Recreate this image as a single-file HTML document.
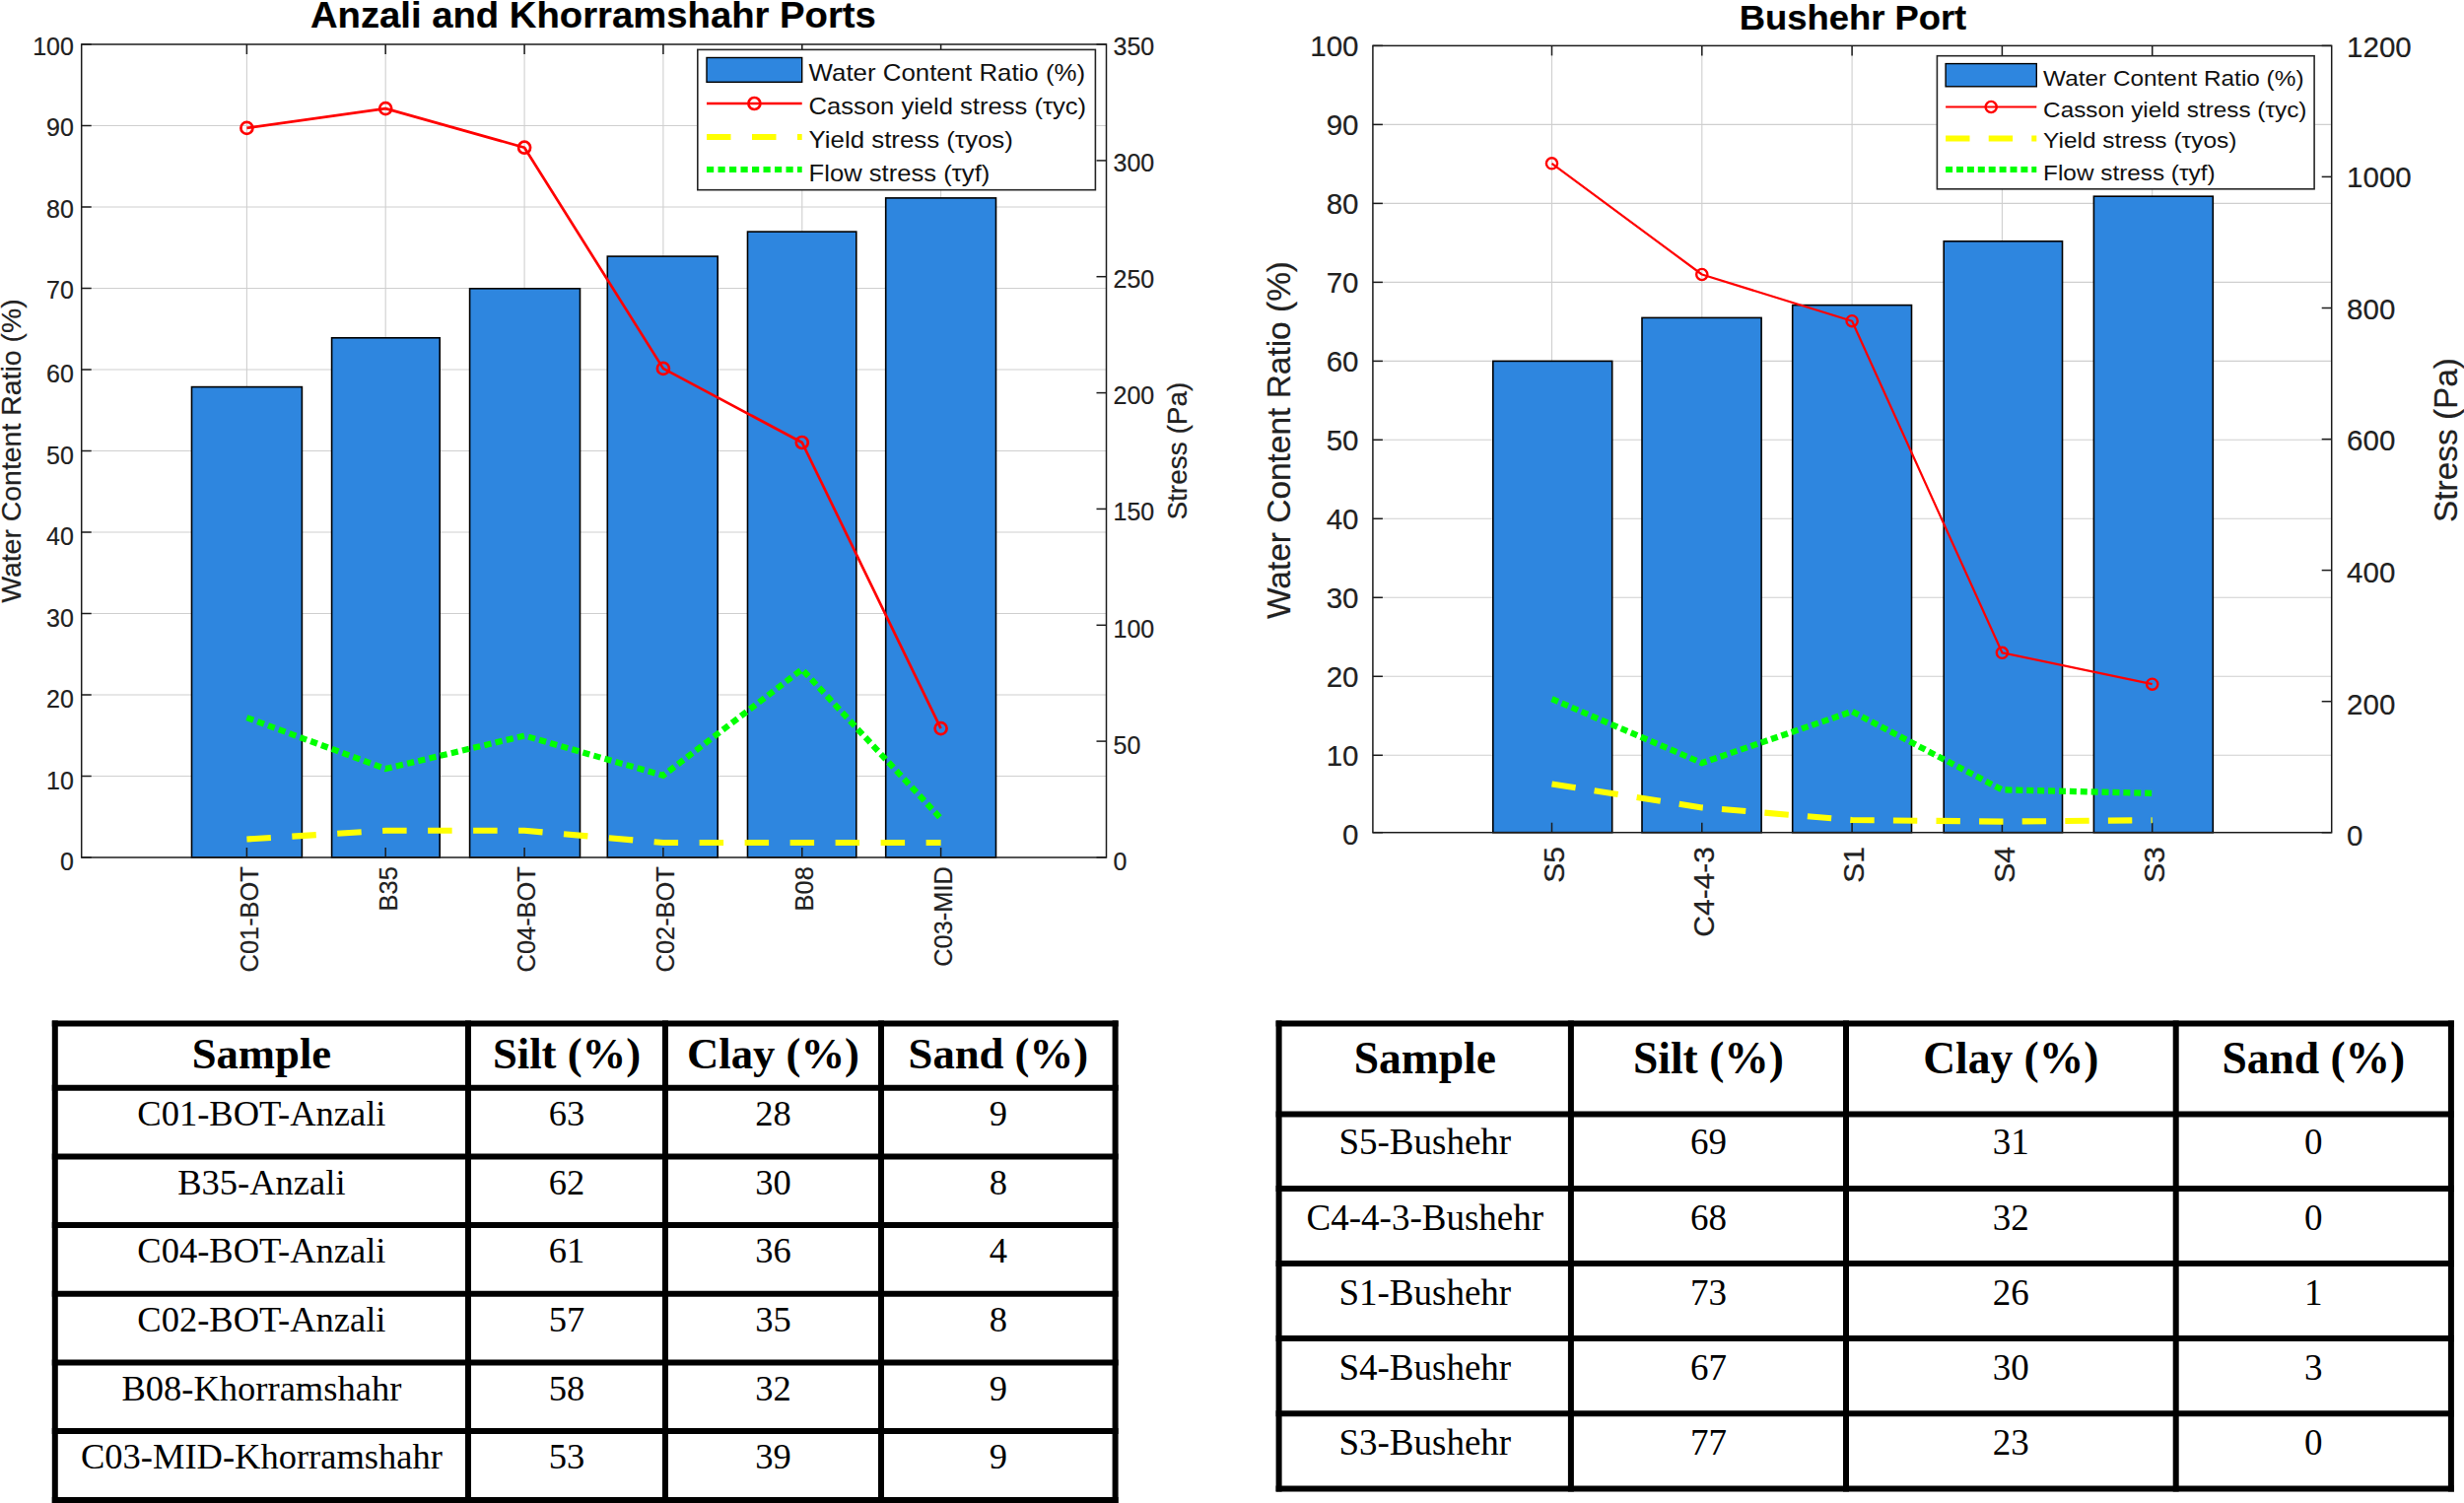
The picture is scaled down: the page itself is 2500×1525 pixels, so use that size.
<!DOCTYPE html>
<html lang="en"><head><meta charset="utf-8"><title>Port sediment charts</title>
<style>html,body{margin:0;padding:0;background:#fff;}body{width:2500px;height:1525px;overflow:hidden;}svg{display:block;}</style>
</head><body>
<svg width="2500" height="1525" viewBox="0 0 2500 1525">
<rect x="0" y="0" width="2500" height="1525" fill="#fff"/>
<g font-family="'Liberation Sans', Arial, Helvetica, sans-serif" fill="#212121" stroke="#212121" stroke-width="0.2">
<g stroke="#cfcfcf" stroke-width="1.1" fill="none">
<line x1="250.4" y1="45.0" x2="250.4" y2="870.0"/>
<line x1="391.2" y1="45.0" x2="391.2" y2="870.0"/>
<line x1="532.1" y1="45.0" x2="532.1" y2="870.0"/>
<line x1="672.9" y1="45.0" x2="672.9" y2="870.0"/>
<line x1="813.8" y1="45.0" x2="813.8" y2="870.0"/>
<line x1="954.6" y1="45.0" x2="954.6" y2="870.0"/>
<line x1="82.7" y1="787.5" x2="1122.5" y2="787.5"/>
<line x1="82.7" y1="705.0" x2="1122.5" y2="705.0"/>
<line x1="82.7" y1="622.5" x2="1122.5" y2="622.5"/>
<line x1="82.7" y1="540.0" x2="1122.5" y2="540.0"/>
<line x1="82.7" y1="457.5" x2="1122.5" y2="457.5"/>
<line x1="82.7" y1="375.0" x2="1122.5" y2="375.0"/>
<line x1="82.7" y1="292.5" x2="1122.5" y2="292.5"/>
<line x1="82.7" y1="210.0" x2="1122.5" y2="210.0"/>
<line x1="82.7" y1="127.5" x2="1122.5" y2="127.5"/>
</g>
<g fill="#2E86DF" stroke="#000" stroke-width="1.6">
<rect x="194.5" y="392.6" width="111.9" height="477.4"/>
<rect x="336.6" y="342.8" width="109.6" height="527.2"/>
<rect x="476.6" y="292.8" width="111.9" height="577.2"/>
<rect x="616.3" y="260.1" width="111.9" height="609.9"/>
<rect x="758.5" y="235.1" width="110.3" height="634.9"/>
<rect x="898.7" y="200.9" width="111.8" height="669.1"/>
</g>
<g stroke="#1c1c1c" stroke-width="1.5" fill="none">
<rect x="82.7" y="45.0" width="1039.8" height="825.0"/>
<line x1="250.4" y1="870.0" x2="250.4" y2="860.0"/>
<line x1="250.4" y1="45.0" x2="250.4" y2="55.0"/>
<line x1="391.2" y1="870.0" x2="391.2" y2="860.0"/>
<line x1="391.2" y1="45.0" x2="391.2" y2="55.0"/>
<line x1="532.1" y1="870.0" x2="532.1" y2="860.0"/>
<line x1="532.1" y1="45.0" x2="532.1" y2="55.0"/>
<line x1="672.9" y1="870.0" x2="672.9" y2="860.0"/>
<line x1="672.9" y1="45.0" x2="672.9" y2="55.0"/>
<line x1="813.8" y1="870.0" x2="813.8" y2="860.0"/>
<line x1="813.8" y1="45.0" x2="813.8" y2="55.0"/>
<line x1="954.6" y1="870.0" x2="954.6" y2="860.0"/>
<line x1="954.6" y1="45.0" x2="954.6" y2="55.0"/>
<line x1="82.7" y1="870.0" x2="92.7" y2="870.0"/>
<line x1="82.7" y1="787.5" x2="92.7" y2="787.5"/>
<line x1="82.7" y1="705.0" x2="92.7" y2="705.0"/>
<line x1="82.7" y1="622.5" x2="92.7" y2="622.5"/>
<line x1="82.7" y1="540.0" x2="92.7" y2="540.0"/>
<line x1="82.7" y1="457.5" x2="92.7" y2="457.5"/>
<line x1="82.7" y1="375.0" x2="92.7" y2="375.0"/>
<line x1="82.7" y1="292.5" x2="92.7" y2="292.5"/>
<line x1="82.7" y1="210.0" x2="92.7" y2="210.0"/>
<line x1="82.7" y1="127.5" x2="92.7" y2="127.5"/>
<line x1="82.7" y1="45.0" x2="92.7" y2="45.0"/>
<line x1="1122.5" y1="870.0" x2="1112.5" y2="870.0"/>
<line x1="1122.5" y1="752.1" x2="1112.5" y2="752.1"/>
<line x1="1122.5" y1="634.3" x2="1112.5" y2="634.3"/>
<line x1="1122.5" y1="516.4" x2="1112.5" y2="516.4"/>
<line x1="1122.5" y1="398.6" x2="1112.5" y2="398.6"/>
<line x1="1122.5" y1="280.7" x2="1112.5" y2="280.7"/>
<line x1="1122.5" y1="162.9" x2="1112.5" y2="162.9"/>
<line x1="1122.5" y1="45.0" x2="1112.5" y2="45.0"/>
</g>
<polyline points="250.4,129.9 391.2,110.1 532.1,149.7 672.9,373.9 813.8,449.0 954.6,739.1" fill="none" stroke="#ff0000" stroke-width="2.7" stroke-linejoin="round"/>
<circle cx="250.4" cy="129.9" r="6.0" fill="none" stroke="#ff0000" stroke-width="2.7"/>
<circle cx="391.2" cy="110.1" r="6.0" fill="none" stroke="#ff0000" stroke-width="2.7"/>
<circle cx="532.1" cy="149.7" r="6.0" fill="none" stroke="#ff0000" stroke-width="2.7"/>
<circle cx="672.9" cy="373.9" r="6.0" fill="none" stroke="#ff0000" stroke-width="2.7"/>
<circle cx="813.8" cy="449.0" r="6.0" fill="none" stroke="#ff0000" stroke-width="2.7"/>
<circle cx="954.6" cy="739.1" r="6.0" fill="none" stroke="#ff0000" stroke-width="2.7"/>
<polyline points="250.4,851.5 391.2,842.8 532.1,842.8 672.9,855.0 813.8,855.0 954.6,855.0" fill="none" stroke="#ffff00" stroke-width="6.1" stroke-dasharray="24.5 21.5"/>
<polyline points="250.4,728.2 391.2,780.0 532.1,746.5 672.9,786.8 813.8,679.1 954.6,830.5" fill="none" stroke="#00ff00" stroke-width="6.2" stroke-dasharray="7.2 4.3"/>
<g font-size="25" text-anchor="end">
<text x="74.9" y="883.2">0</text>
<text x="74.9" y="800.7">10</text>
<text x="74.9" y="718.2">20</text>
<text x="74.9" y="635.7">30</text>
<text x="74.9" y="553.2">40</text>
<text x="74.9" y="470.7">50</text>
<text x="74.9" y="388.2">60</text>
<text x="74.9" y="303.4">70</text>
<text x="74.9" y="220.9">80</text>
<text x="74.9" y="138.4">90</text>
<text x="74.9" y="55.9">100</text>
</g>
<g font-size="25" text-anchor="start">
<text x="1129.5" y="882.5">0</text>
<text x="1129.5" y="764.6">50</text>
<text x="1129.5" y="646.8">100</text>
<text x="1129.5" y="527.7">150</text>
<text x="1129.5" y="409.9">200</text>
<text x="1129.5" y="292.0">250</text>
<text x="1129.5" y="174.2">300</text>
<text x="1129.5" y="55.6">350</text>
</g>
<g font-size="25.4" text-anchor="end">
<text transform="translate(261.7,879.2) rotate(-90)">C01-BOT</text>
<text transform="translate(402.5,879.2) rotate(-90)">B35</text>
<text transform="translate(543.4,879.2) rotate(-90)">C04-BOT</text>
<text transform="translate(684.2,879.2) rotate(-90)">C02-BOT</text>
<text transform="translate(825.1,879.2) rotate(-90)">B08</text>
<text transform="translate(965.9,879.2) rotate(-90)">C03-MID</text>
</g>
<text font-size="27.8" text-anchor="middle" transform="translate(21.3,457.6) rotate(-90)" textLength="308.5" lengthAdjust="spacingAndGlyphs">Water Content Ratio (%)</text>
<text font-size="27.8" text-anchor="middle" transform="translate(1204,457.6) rotate(-90)" textLength="140" lengthAdjust="spacingAndGlyphs">Stress (Pa)</text>
<text font-size="36.6" font-weight="bold" fill="#000" text-anchor="middle" x="601.9" y="28.2" textLength="574" lengthAdjust="spacingAndGlyphs">Anzali and Khorramshahr Ports</text>
<rect x="707.8" y="50.4" width="403.60000000000014" height="142.29999999999998" fill="#fff" stroke="#262626" stroke-width="1.6"/>
<rect x="717" y="58.5" width="96.70000000000005" height="24.799999999999997" fill="#2E86DF" stroke="#000" stroke-width="1.4"/>
<line x1="717" y1="105" x2="813.7" y2="105" stroke="#ff0000" stroke-width="2.7"/>
<circle cx="765.4" cy="105" r="6.0" fill="none" stroke="#ff0000" stroke-width="2.7"/>
<line x1="717" y1="139" x2="813.7" y2="139" stroke="#ffff00" stroke-width="6.1" stroke-dasharray="24.5 21.5"/>
<line x1="717" y1="172" x2="813.7" y2="172" stroke="#00ff00" stroke-width="6.2" stroke-dasharray="7.2 4.3"/>
<g font-size="23.4" fill="#111" stroke="none">
<text x="820.6" y="81.6" textLength="280.5" lengthAdjust="spacingAndGlyphs">Water Content Ratio (%)</text>
<text x="820.6" y="115.9" textLength="281.5" lengthAdjust="spacingAndGlyphs">Casson yield stress (τyc)</text>
<text x="820.6" y="149.6" textLength="207.3" lengthAdjust="spacingAndGlyphs">Yield stress (τyos)</text>
<text x="820.6" y="184.0" textLength="183.7" lengthAdjust="spacingAndGlyphs">Flow stress (τyf)</text>
</g>
</g>
<g font-family="'Liberation Sans', Arial, Helvetica, sans-serif" fill="#212121" stroke="#212121" stroke-width="0.2">
<g stroke="#cfcfcf" stroke-width="1.1" fill="none">
<line x1="1574.5" y1="46.4" x2="1574.5" y2="844.7"/>
<line x1="1726.8" y1="46.4" x2="1726.8" y2="844.7"/>
<line x1="1879.1" y1="46.4" x2="1879.1" y2="844.7"/>
<line x1="2031.4" y1="46.4" x2="2031.4" y2="844.7"/>
<line x1="2183.7" y1="46.4" x2="2183.7" y2="844.7"/>
<line x1="1392.9" y1="766.3" x2="2365.7" y2="766.3"/>
<line x1="1392.9" y1="686.3" x2="2365.7" y2="686.3"/>
<line x1="1392.9" y1="606.3" x2="2365.7" y2="606.3"/>
<line x1="1392.9" y1="526.3" x2="2365.7" y2="526.3"/>
<line x1="1392.9" y1="446.3" x2="2365.7" y2="446.3"/>
<line x1="1392.9" y1="366.4" x2="2365.7" y2="366.4"/>
<line x1="1392.9" y1="286.4" x2="2365.7" y2="286.4"/>
<line x1="1392.9" y1="206.4" x2="2365.7" y2="206.4"/>
<line x1="1392.9" y1="126.4" x2="2365.7" y2="126.4"/>
</g>
<g fill="#2E86DF" stroke="#000" stroke-width="1.6">
<rect x="1514.8" y="366.4" width="120.9" height="478.3"/>
<rect x="1666.0" y="322.4" width="121.1" height="522.3"/>
<rect x="1818.7" y="309.6" width="120.8" height="535.1"/>
<rect x="1972.2" y="244.8" width="120.3" height="599.9"/>
<rect x="2124.4" y="199.2" width="120.9" height="645.5"/>
</g>
<g stroke="#1c1c1c" stroke-width="1.5" fill="none">
<rect x="1392.9" y="46.4" width="972.7999999999997" height="798.3000000000001"/>
<line x1="1574.5" y1="844.7" x2="1574.5" y2="834.7"/>
<line x1="1574.5" y1="46.4" x2="1574.5" y2="56.4"/>
<line x1="1726.8" y1="844.7" x2="1726.8" y2="834.7"/>
<line x1="1726.8" y1="46.4" x2="1726.8" y2="56.4"/>
<line x1="1879.1" y1="844.7" x2="1879.1" y2="834.7"/>
<line x1="1879.1" y1="46.4" x2="1879.1" y2="56.4"/>
<line x1="2031.4" y1="844.7" x2="2031.4" y2="834.7"/>
<line x1="2031.4" y1="46.4" x2="2031.4" y2="56.4"/>
<line x1="2183.7" y1="844.7" x2="2183.7" y2="834.7"/>
<line x1="2183.7" y1="46.4" x2="2183.7" y2="56.4"/>
<line x1="1392.9" y1="844.7" x2="1402.9" y2="844.7"/>
<line x1="1392.9" y1="766.3" x2="1402.9" y2="766.3"/>
<line x1="1392.9" y1="686.3" x2="1402.9" y2="686.3"/>
<line x1="1392.9" y1="606.3" x2="1402.9" y2="606.3"/>
<line x1="1392.9" y1="526.3" x2="1402.9" y2="526.3"/>
<line x1="1392.9" y1="446.3" x2="1402.9" y2="446.3"/>
<line x1="1392.9" y1="366.4" x2="1402.9" y2="366.4"/>
<line x1="1392.9" y1="286.4" x2="1402.9" y2="286.4"/>
<line x1="1392.9" y1="206.4" x2="1402.9" y2="206.4"/>
<line x1="1392.9" y1="126.4" x2="1402.9" y2="126.4"/>
<line x1="1392.9" y1="46.4" x2="1402.9" y2="46.4"/>
<line x1="2365.7" y1="844.7" x2="2355.7" y2="844.7"/>
<line x1="2365.7" y1="711.7" x2="2355.7" y2="711.7"/>
<line x1="2365.7" y1="578.6" x2="2355.7" y2="578.6"/>
<line x1="2365.7" y1="445.6" x2="2355.7" y2="445.6"/>
<line x1="2365.7" y1="312.5" x2="2355.7" y2="312.5"/>
<line x1="2365.7" y1="179.4" x2="2355.7" y2="179.4"/>
<line x1="2365.7" y1="46.4" x2="2355.7" y2="46.4"/>
</g>
<polyline points="1574.5,165.8 1726.8,278.5 1879.1,325.7 2031.4,662.3 2183.7,694.2" fill="none" stroke="#ff0000" stroke-width="2.2" stroke-linejoin="round"/>
<circle cx="1574.5" cy="165.8" r="5.6" fill="none" stroke="#ff0000" stroke-width="2.4"/>
<circle cx="1726.8" cy="278.5" r="5.6" fill="none" stroke="#ff0000" stroke-width="2.4"/>
<circle cx="1879.1" cy="325.7" r="5.6" fill="none" stroke="#ff0000" stroke-width="2.4"/>
<circle cx="2031.4" cy="662.3" r="5.6" fill="none" stroke="#ff0000" stroke-width="2.4"/>
<circle cx="2183.7" cy="694.2" r="5.6" fill="none" stroke="#ff0000" stroke-width="2.4"/>
<polyline points="1574.5,795.4 1726.8,819.4 1879.1,832.0 2031.4,833.6 2183.7,832.2" fill="none" stroke="#ffff00" stroke-width="6.1" stroke-dasharray="24.4 19.2"/>
<polyline points="1574.5,709.2 1726.8,774.1 1879.1,721.9 2031.4,801.3 2183.7,804.9" fill="none" stroke="#00ff00" stroke-width="6.2" stroke-dasharray="7 3.9"/>
<g font-size="29.5" text-anchor="end">
<text x="1378.5" y="857.1">0</text>
<text x="1378.5" y="777.1">10</text>
<text x="1378.5" y="697.1">20</text>
<text x="1378.5" y="617.1">30</text>
<text x="1378.5" y="537.1">40</text>
<text x="1378.5" y="457.1">50</text>
<text x="1378.5" y="377.2">60</text>
<text x="1378.5" y="297.2">70</text>
<text x="1378.5" y="217.2">80</text>
<text x="1378.5" y="137.2">90</text>
<text x="1378.5" y="57.2">100</text>
</g>
<g font-size="29.5" text-anchor="start">
<text x="2381.1" y="857.7">0</text>
<text x="2381.1" y="724.7">200</text>
<text x="2381.1" y="590.6">400</text>
<text x="2381.1" y="457.1">600</text>
<text x="2381.1" y="324.3">800</text>
<text x="2381.1" y="190.4">1000</text>
<text x="2381.1" y="57.9">1200</text>
</g>
<g font-size="30.0" text-anchor="end">
<text transform="translate(1586.7,859.0) rotate(-90)">S5</text>
<text transform="translate(1739.0,859.0) rotate(-90)">C4-4-3</text>
<text transform="translate(1891.3,859.0) rotate(-90)">S1</text>
<text transform="translate(2043.6,859.0) rotate(-90)">S4</text>
<text transform="translate(2195.9,859.0) rotate(-90)">S3</text>
</g>
<text font-size="32.7" text-anchor="middle" transform="translate(1309.1,446.5) rotate(-90)" textLength="363" lengthAdjust="spacingAndGlyphs">Water Content Ratio (%)</text>
<text font-size="32.7" text-anchor="middle" transform="translate(2492.6,446.5) rotate(-90)" textLength="167" lengthAdjust="spacingAndGlyphs">Stress (Pa)</text>
<text font-size="34.5" font-weight="bold" fill="#000" text-anchor="middle" x="1880" y="29.9" textLength="230.5" lengthAdjust="spacingAndGlyphs">Bushehr Port</text>
<rect x="1965.4" y="56.7" width="382.6999999999998" height="135.10000000000002" fill="#fff" stroke="#262626" stroke-width="1.6"/>
<rect x="1974.1" y="64.6" width="92.20000000000027" height="23.200000000000003" fill="#2E86DF" stroke="#000" stroke-width="1.4"/>
<line x1="1974.1" y1="108.5" x2="2066.3" y2="108.5" stroke="#ff0000" stroke-width="2.2"/>
<circle cx="2020.2" cy="108.5" r="5.6" fill="none" stroke="#ff0000" stroke-width="2.4"/>
<line x1="1974.1" y1="140.5" x2="2066.3" y2="140.5" stroke="#ffff00" stroke-width="6.1" stroke-dasharray="24.4 19.2"/>
<line x1="1974.1" y1="172" x2="2066.3" y2="172" stroke="#00ff00" stroke-width="6.2" stroke-dasharray="7 3.9"/>
<g font-size="22.5" fill="#111" stroke="none">
<text x="2073.1" y="86.7" textLength="264.4" lengthAdjust="spacingAndGlyphs">Water Content Ratio (%)</text>
<text x="2073.1" y="119.2" textLength="267.3" lengthAdjust="spacingAndGlyphs">Casson yield stress (τyc)</text>
<text x="2073.1" y="150.0" textLength="196.3" lengthAdjust="spacingAndGlyphs">Yield stress (τyos)</text>
<text x="2073.1" y="182.8" textLength="174.5" lengthAdjust="spacingAndGlyphs">Flow stress (τyf)</text>
</g>
</g>
<g stroke="#000" stroke-width="6" stroke-linecap="square" fill="none">
<line x1="55.8" y1="1038.5" x2="55.8" y2="1522.0"/>
<line x1="475" y1="1038.5" x2="475" y2="1522.0"/>
<line x1="675" y1="1038.5" x2="675" y2="1522.0"/>
<line x1="894" y1="1038.5" x2="894" y2="1522.0"/>
<line x1="1131.6" y1="1038.5" x2="1131.6" y2="1522.0"/>
<line x1="55.8" y1="1038.5" x2="1131.6" y2="1038.5"/>
<line x1="55.8" y1="1103.7" x2="1131.6" y2="1103.7"/>
<line x1="55.8" y1="1173.6" x2="1131.6" y2="1173.6"/>
<line x1="55.8" y1="1243.1" x2="1131.6" y2="1243.1"/>
<line x1="55.8" y1="1312.7" x2="1131.6" y2="1312.7"/>
<line x1="55.8" y1="1382.6" x2="1131.6" y2="1382.6"/>
<line x1="55.8" y1="1452.1" x2="1131.6" y2="1452.1"/>
<line x1="55.8" y1="1522.0" x2="1131.6" y2="1522.0"/>
</g>
<g font-family="'Liberation Serif', 'Times New Roman', Times, serif" fill="#000" text-anchor="middle">
<g font-size="44.7" font-weight="bold">
<text x="265.4" y="1084.3">Sample</text>
<text x="575.0" y="1084.3">Silt (%)</text>
<text x="784.5" y="1084.3">Clay (%)</text>
<text x="1012.8" y="1084.3">Sand (%)</text>
</g>
<g font-size="36.5">
<text x="265.4" y="1141.6">C01-BOT-Anzali</text>
<text x="575.0" y="1141.6">63</text>
<text x="784.5" y="1141.6">28</text>
<text x="1012.8" y="1141.6">9</text>
<text x="265.4" y="1211.5">B35-Anzali</text>
<text x="575.0" y="1211.5">62</text>
<text x="784.5" y="1211.5">30</text>
<text x="1012.8" y="1211.5">8</text>
<text x="265.4" y="1281.1">C04-BOT-Anzali</text>
<text x="575.0" y="1281.1">61</text>
<text x="784.5" y="1281.1">36</text>
<text x="1012.8" y="1281.1">4</text>
<text x="265.4" y="1351.0">C02-BOT-Anzali</text>
<text x="575.0" y="1351.0">57</text>
<text x="784.5" y="1351.0">35</text>
<text x="1012.8" y="1351.0">8</text>
<text x="265.4" y="1420.5">B08-Khorramshahr</text>
<text x="575.0" y="1420.5">58</text>
<text x="784.5" y="1420.5">32</text>
<text x="1012.8" y="1420.5">9</text>
<text x="265.4" y="1490.4">C03-MID-Khorramshahr</text>
<text x="575.0" y="1490.4">53</text>
<text x="784.5" y="1490.4">39</text>
<text x="1012.8" y="1490.4">9</text>
</g>
</g>
<g stroke="#000" stroke-width="6" stroke-linecap="square" fill="none">
<line x1="1297.6" y1="1038.5" x2="1297.6" y2="1510.6"/>
<line x1="1593.9" y1="1038.5" x2="1593.9" y2="1510.6"/>
<line x1="1873.0" y1="1038.5" x2="1873.0" y2="1510.6"/>
<line x1="2207.7" y1="1038.5" x2="2207.7" y2="1510.6"/>
<line x1="2486.9" y1="1038.5" x2="2486.9" y2="1510.6"/>
<line x1="1297.6" y1="1038.5" x2="2486.9" y2="1038.5"/>
<line x1="1297.6" y1="1130.5" x2="2486.9" y2="1130.5"/>
<line x1="1297.6" y1="1206.1" x2="2486.9" y2="1206.1"/>
<line x1="1297.6" y1="1282.1" x2="2486.9" y2="1282.1"/>
<line x1="1297.6" y1="1358.0" x2="2486.9" y2="1358.0"/>
<line x1="1297.6" y1="1434.3" x2="2486.9" y2="1434.3"/>
<line x1="1297.6" y1="1510.6" x2="2486.9" y2="1510.6"/>
</g>
<g font-family="'Liberation Serif', 'Times New Roman', Times, serif" fill="#000" text-anchor="middle">
<g font-size="45.5" font-weight="bold">
<text x="1445.8" y="1088.9">Sample</text>
<text x="1733.5" y="1088.9">Silt (%)</text>
<text x="2040.3" y="1088.9">Clay (%)</text>
<text x="2347.3" y="1088.9">Sand (%)</text>
</g>
<g font-size="37">
<text x="1445.8" y="1171.2">S5-Bushehr</text>
<text x="1733.5" y="1171.2">69</text>
<text x="2040.3" y="1171.2">31</text>
<text x="2347.3" y="1171.2">0</text>
<text x="1445.8" y="1247.8">C4-4-3-Bushehr</text>
<text x="1733.5" y="1247.8">68</text>
<text x="2040.3" y="1247.8">32</text>
<text x="2347.3" y="1247.8">0</text>
<text x="1445.8" y="1324.1">S1-Bushehr</text>
<text x="1733.5" y="1324.1">73</text>
<text x="2040.3" y="1324.1">26</text>
<text x="2347.3" y="1324.1">1</text>
<text x="1445.8" y="1399.7">S4-Bushehr</text>
<text x="1733.5" y="1399.7">67</text>
<text x="2040.3" y="1399.7">30</text>
<text x="2347.3" y="1399.7">3</text>
<text x="1445.8" y="1476.0">S3-Bushehr</text>
<text x="1733.5" y="1476.0">77</text>
<text x="2040.3" y="1476.0">23</text>
<text x="2347.3" y="1476.0">0</text>
</g>
</g>
</svg>
</body></html>
